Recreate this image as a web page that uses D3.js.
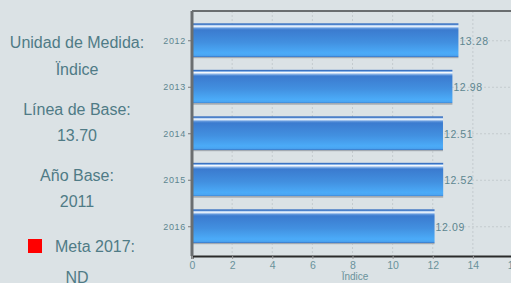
<!DOCTYPE html>
<html>
<head>
<meta charset="utf-8">
<script src="https://cdn.jsdelivr.net/npm/d3@7"></script>
<style>
  body { margin: 0; background: #dbe2e5; }
  svg { display: block; font-family: "Liberation Sans", Arial, sans-serif; }
</style>
</head>
<body>
<div id="chart"></div>
<script>
// data
var years = ["2012", "2013", "2014", "2015", "2016"];
var values = [13.28, 12.98, 12.51, 12.52, 12.09];
var xTicks = [0, 2, 4, 6, 8, 10, 12, 14, 16];

var infoLines = ["Unidad de Medida:", "Ïndice", "Línea de Base:", "13.70", "Año Base:", "2011"];
var metaLabel = "Meta 2017:";
var metaValue = "ND";

var svgWidth = 511, svgHeight = 283;

var svg = d3.select("#chart").append("svg")
    .attr("width", svgWidth).attr("height", svgHeight);

svg.append("rect").attr("width", svgWidth).attr("height", svgHeight).attr("fill", "#dbe2e5");

// left info panel
var textColor = "#4f7b86";
var infoY = [42, 69, 109, 135, 175, 201];
svg.append("g").selectAll("text").data(infoLines).enter().append("text")
    .attr("x", 77)
    .attr("y", (d, i) => infoY[i] + 5.5)
    .attr("text-anchor", "middle")
    .attr("font-size", 16)
    .attr("fill", textColor)
    .text(d => d);

svg.append("rect").attr("x", 28).attr("y", 239).attr("width", 14).attr("height", 14).attr("fill", "#ff0000");
svg.append("text").attr("x", 55).attr("y", 252).attr("font-size", 16).attr("fill", textColor).text(metaLabel);
svg.append("text").attr("x", 77).attr("y", 283).attr("text-anchor", "middle").attr("font-size", 16).attr("fill", textColor).text(metaValue);

// chart area
var plot = { left: 192, right: 513, top: 11, bottom: 256 };

var xScale = d3.scaleLinear().domain([0, 16]).range([plot.left, plot.right]);
var yScale = d3.scaleBand().domain(years).range([17.5, 250]).paddingInner(0.25).paddingOuter(0.125);

// gradient for bars
var defs = svg.append("defs");
var grad = defs.append("linearGradient").attr("id", "barGrad")
    .attr("x1", 0).attr("y1", 0).attr("x2", 0).attr("y2", 1);
[
    [0, "#3a72c2"], [0.03, "#3a72c2"], [0.05, "#8fb8ea"], [0.08, "#ffffff"],
    [0.11, "#b4d0f2"], [0.15, "#5a92da"], [0.19, "#3b7bcf"], [0.55, "#4290e0"],
    [0.85, "#4babf8"], [0.92, "#4aa5f2"], [0.955, "#3d80cf"], [0.965, "#a2aab2"], [1, "#a2aab2"]
].forEach(s => grad.append("stop").attr("offset", s[0]).attr("stop-color", s[1]));

// grid
var grid = svg.append("g");
grid.selectAll("line.v").data(xTicks.slice(1)).enter().append("line")
    .attr("x1", d => xScale(d)).attr("x2", d => xScale(d))
    .attr("y1", plot.top).attr("y2", plot.bottom)
    .attr("stroke", "#c4cbce").attr("stroke-dasharray", "2,2");
grid.selectAll("line.h").data(years).enter().append("line")
    .attr("x1", plot.left).attr("x2", plot.right)
    .attr("y1", d => yScale(d) + yScale.bandwidth() / 2)
    .attr("y2", d => yScale(d) + yScale.bandwidth() / 2)
    .attr("stroke", "#c4cbce").attr("stroke-dasharray", "2,2");

// bars
svg.append("g").selectAll("rect").data(values).enter().append("rect")
    .attr("x", xScale(0))
    .attr("y", (d, i) => yScale(years[i]))
    .attr("width", d => xScale(d) - xScale(0))
    .attr("height", yScale.bandwidth())
    .attr("fill", "url(#barGrad)");

// value labels
svg.append("g").selectAll("text").data(values).enter().append("text")
    .attr("x", d => xScale(d) + 1)
    .attr("y", (d, i) => yScale(years[i]) + yScale.bandwidth() / 2 + 4)
    .attr("font-size", 10.5)
    .attr("letter-spacing", 0.6)
    .attr("fill", "#5d8690")
    .text(d => d.toFixed(2));

// frame lines
svg.append("line").attr("x1", plot.left).attr("x2", plot.right)
    .attr("y1", plot.top).attr("y2", plot.top)
    .attr("stroke", "#6a6e70").attr("stroke-width", 2);

// x axis
var xAxis = d3.axisBottom(xScale).tickValues(xTicks).tickSize(3).tickPadding(3);
var gx = svg.append("g").attr("transform", `translate(0, ${plot.bottom})`).call(xAxis);
gx.select(".domain").attr("stroke", "#2a2a2a").attr("stroke-width", 2);
gx.selectAll(".tick line").attr("stroke", "#999");
gx.selectAll(".tick text").attr("fill", "#6a929b").attr("font-size", 10.5)
    .attr("font-family", "'Liberation Sans', Arial, sans-serif");

// y axis
var yAxis = d3.axisLeft(yScale).tickSize(4).tickPadding(2);
var gy = svg.append("g").attr("transform", `translate(${plot.left}, 0)`).call(yAxis);
gy.select(".domain").remove();
gy.selectAll(".tick line").attr("stroke", "#777");
gy.selectAll(".tick text").attr("fill", "#5d8690").attr("font-size", 9)
    .attr("letter-spacing", 0.7)
    .attr("font-family", "'Liberation Sans', Arial, sans-serif");

svg.append("line").attr("x1", plot.left).attr("x2", plot.left)
    .attr("y1", plot.top).attr("y2", plot.bottom)
    .attr("stroke", "#6a6e70").attr("stroke-width", 3);

// axis title
svg.append("text").attr("x", 355).attr("y", 280)
    .attr("text-anchor", "middle").attr("font-size", 10)
    .attr("fill", "#6a929b").text("Ïndice");
</script>
</body>
</html>
